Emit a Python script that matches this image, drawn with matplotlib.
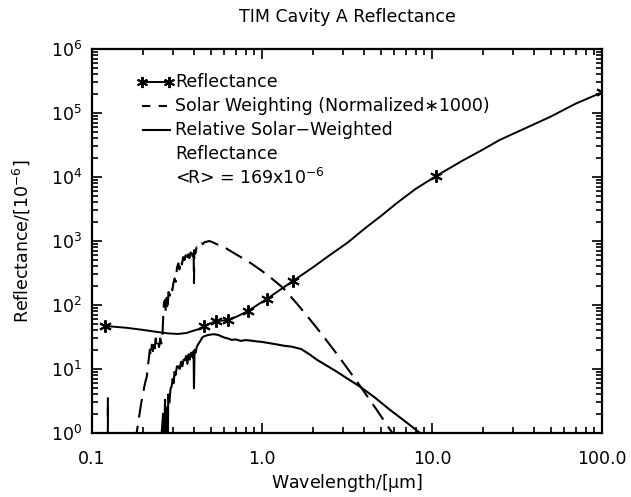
import matplotlib
matplotlib.use('Agg')
import matplotlib.pyplot as plt
import numpy as np
from matplotlib.ticker import LogLocator, NullFormatter, FixedLocator, FixedFormatter, LogFormatterMathtext

# reflectance curve (1e-6)
refl_wl = [0.12, 0.16, 0.2, 0.24, 0.28, 0.32, 0.36, 0.38, 0.42, 0.458, 0.536, 0.634, 0.72, 0.83,
           0.95, 1.07, 1.3, 1.53, 2.0, 2.5, 3.2, 4.0, 5.0, 6.2, 8.0, 10.6, 15.0, 20.0, 25.0,
           35.0, 50.0, 70.0, 100.0]
refl_val = [47, 44, 40.8, 38, 36, 35.3, 36.5, 38.4, 41.6, 47, 56, 58, 67, 81,
            102, 125, 178, 240, 390, 600, 950, 1550, 2450, 3900, 6500, 10400, 17800, 27000, 37900,
            57000, 88000, 140000, 210000]

# measured points (asterisks)
meas_wl = [0.12, 0.458, 0.536, 0.634, 0.83, 1.07, 1.53, 10.6, 100.0]
meas_val = [47, 47, 56, 58, 81, 125, 240, 10400, 210000]

# solar weighting, normalized*1000
sol_wl = [0.118, 0.1235, 0.124, 0.1245, 0.15, 0.17, 0.183, 0.195, 0.205, 0.21, 0.214, 0.219,
          0.222, 0.225, 0.228, 0.231, 0.234, 0.237, 0.24, 0.244, 0.248, 0.252, 0.256, 0.259,
          0.262, 0.265, 0.269, 0.272, 0.275, 0.278, 0.282, 0.287, 0.292, 0.297, 0.301, 0.306,
          0.311, 0.316, 0.322, 0.327, 0.333, 0.338, 0.344, 0.35, 0.356, 0.362, 0.368, 0.374,
          0.38, 0.386, 0.392, 0.396, 0.398, 0.4, 0.406, 0.412, 0.418, 0.422, 0.43, 0.44, 0.45,
          0.46, 0.473, 0.49, 0.51, 0.553, 0.6, 0.663, 0.75, 0.86, 1.0, 1.15, 1.33, 1.6, 1.85,
          2.1, 2.4, 2.75, 3.2, 3.77, 4.3, 4.73, 5.3, 5.79, 6.5]
sol_val = [0.01, 0.01, 3.5, 0.01, 0.01, 0.3, 1.0, 3, 6, 7.6, 12, 20,
           16, 24, 19, 28, 21, 30, 23, 27, 22, 30, 25, 28,
           60, 110, 120, 75, 130, 83, 160, 140, 190, 170, 218, 260,
           230, 380, 448, 360, 500, 430, 560, 505, 600, 480, 620, 540,
           660, 645, 560, 700, 220, 720, 640, 800, 760, 815, 870, 920, 900,
           960, 975, 1000, 960, 870, 800, 680, 560, 450, 340, 255, 185, 106, 66.6,
           43.8, 27.8, 17.3, 10.0, 5.45, 3.3, 2.3, 1.47, 1.04, 0.65]

# relative solar-weighted reflectance
rel_wl = [0.25, 0.257, 0.262, 0.265, 0.269, 0.272, 0.275, 0.278, 0.281, 0.285, 0.29, 0.294,
          0.298, 0.302, 0.306, 0.31, 0.316, 0.322, 0.328, 0.334, 0.34, 0.346, 0.352, 0.358,
          0.364, 0.37, 0.376, 0.382, 0.386, 0.392, 0.396, 0.398, 0.401, 0.407, 0.413, 0.42,
          0.428, 0.436, 0.445, 0.452, 0.465, 0.483, 0.52, 0.553, 0.6, 0.63, 0.663, 0.7, 0.75,
          0.8, 0.87, 0.93, 1.0, 1.14, 1.36, 1.5, 1.7, 1.9, 2.1, 2.4, 2.75, 3.2, 3.77, 4.6,
          5.66, 7.0, 8.5, 9.0]
rel_val = [0.1, 1, 2, 0.5, 3.3, 0.3, 2.5, 0.2, 4, 3, 5, 5.3,
           7, 6, 9, 8, 11, 11, 10, 13, 11, 14, 13.8, 16,
           12, 17, 14, 18, 17.6, 15, 19, 5, 20, 18, 22, 24,
           26, 28, 31, 32, 33, 34, 35, 34, 31, 30, 28.5, 29, 27.5,
           28.3, 27.7, 27, 26.5, 25, 23, 22.3, 20.5, 17, 14, 11.3, 9.1, 7.0, 5.3, 3.6,
           2.3, 1.5, 1.0, 0.9]

xtick_vals = [0.1, 1.0, 10.0, 100.0]
xtick_text = ['0.1', '1.0', '10.0', '100.0']
ytick_vals = [1, 10, 100, 1e3, 1e4, 1e5, 1e6]

FS = 12.5
plt.rcParams['font.family'] = 'DejaVu Sans'
plt.rcParams['mathtext.default'] = 'regular'

fig = plt.figure(figsize=(6.31, 4.97), dpi=100)
ax = fig.add_axes([92 / 631, (497 - 433) / 497, 510 / 631, 384 / 497])

ax.plot(refl_wl, refl_val, color='k', lw=1.4)
ax.plot(meas_wl, meas_val, ls='none', color='k', marker=(6, 2, 0), ms=9, mew=1.4)
ax.plot(sol_wl, sol_val, color='k', lw=1.5, dashes=(9, 4))
ax.plot(rel_wl, rel_val, color='k', lw=1.5)

ax.set_xscale('log')
ax.set_yscale('log')
ax.set_xlim(0.1, 100)
ax.set_ylim(1, 1e6)

ax.xaxis.set_major_locator(FixedLocator(xtick_vals))
ax.xaxis.set_major_formatter(FixedFormatter(xtick_text))
ax.xaxis.set_minor_locator(LogLocator(base=10, subs=np.arange(2, 10), numticks=100))
ax.xaxis.set_minor_formatter(NullFormatter())
ax.yaxis.set_major_locator(FixedLocator(ytick_vals))
ax.yaxis.set_major_formatter(LogFormatterMathtext())
ax.yaxis.set_minor_locator(LogLocator(base=10, subs=np.arange(2, 10), numticks=100))
ax.yaxis.set_minor_formatter(NullFormatter())

ax.tick_params(which='both', direction='in', top=True, right=True, width=1.2)
ax.tick_params(which='major', length=7, labelsize=FS)
ax.tick_params(which='minor', length=4)
ax.tick_params(axis='x', which='major', pad=12)
ax.tick_params(axis='y', which='major', pad=7)
for s in ax.spines.values():
    s.set_linewidth(1.6)

fig.text(347 / 631, 1 - 17 / 497, 'TIM Cavity A Reflectance', ha='center', va='center', fontsize=FS)
ax.set_xlabel('Wavelength/[$\\mu$m]', fontsize=FS, labelpad=3)
ax.set_ylabel('Reflectance/[10$^{-6}$]', fontsize=FS, labelpad=14)

# legend drawn by hand, IDL style
def ax_x(px):
    return (px - 92) / 510

def ax_y(py):
    return (433 - py) / 384

rows = [82, 106, 130, 154, 178]
labels = ['Reflectance', 'Solar Weighting (Normalized\u22171000)', 'Relative Solar\u2212Weighted',
          'Reflectance', '<R> = 169x10$^{-6}$']
for r, lab in zip(rows, labels):
    ax.text(ax_x(175), ax_y(r), lab, transform=ax.transAxes, fontsize=FS, va='center', ha='left')

ax.plot([ax_x(142), ax_x(169)], [ax_y(82), ax_y(82)], transform=ax.transAxes, color='k', lw=1.4,
        marker=(6, 2, 0), ms=8, mew=1.4, clip_on=False)
ax.plot([ax_x(142), ax_x(170)], [ax_y(106), ax_y(106)], transform=ax.transAxes, color='k', lw=1.5,
        dashes=(4, 4), clip_on=False)
ax.plot([ax_x(143), ax_x(170)], [ax_y(130), ax_y(130)], transform=ax.transAxes, color='k', lw=1.5,
        clip_on=False)

fig.savefig('out.png', dpi=100)
